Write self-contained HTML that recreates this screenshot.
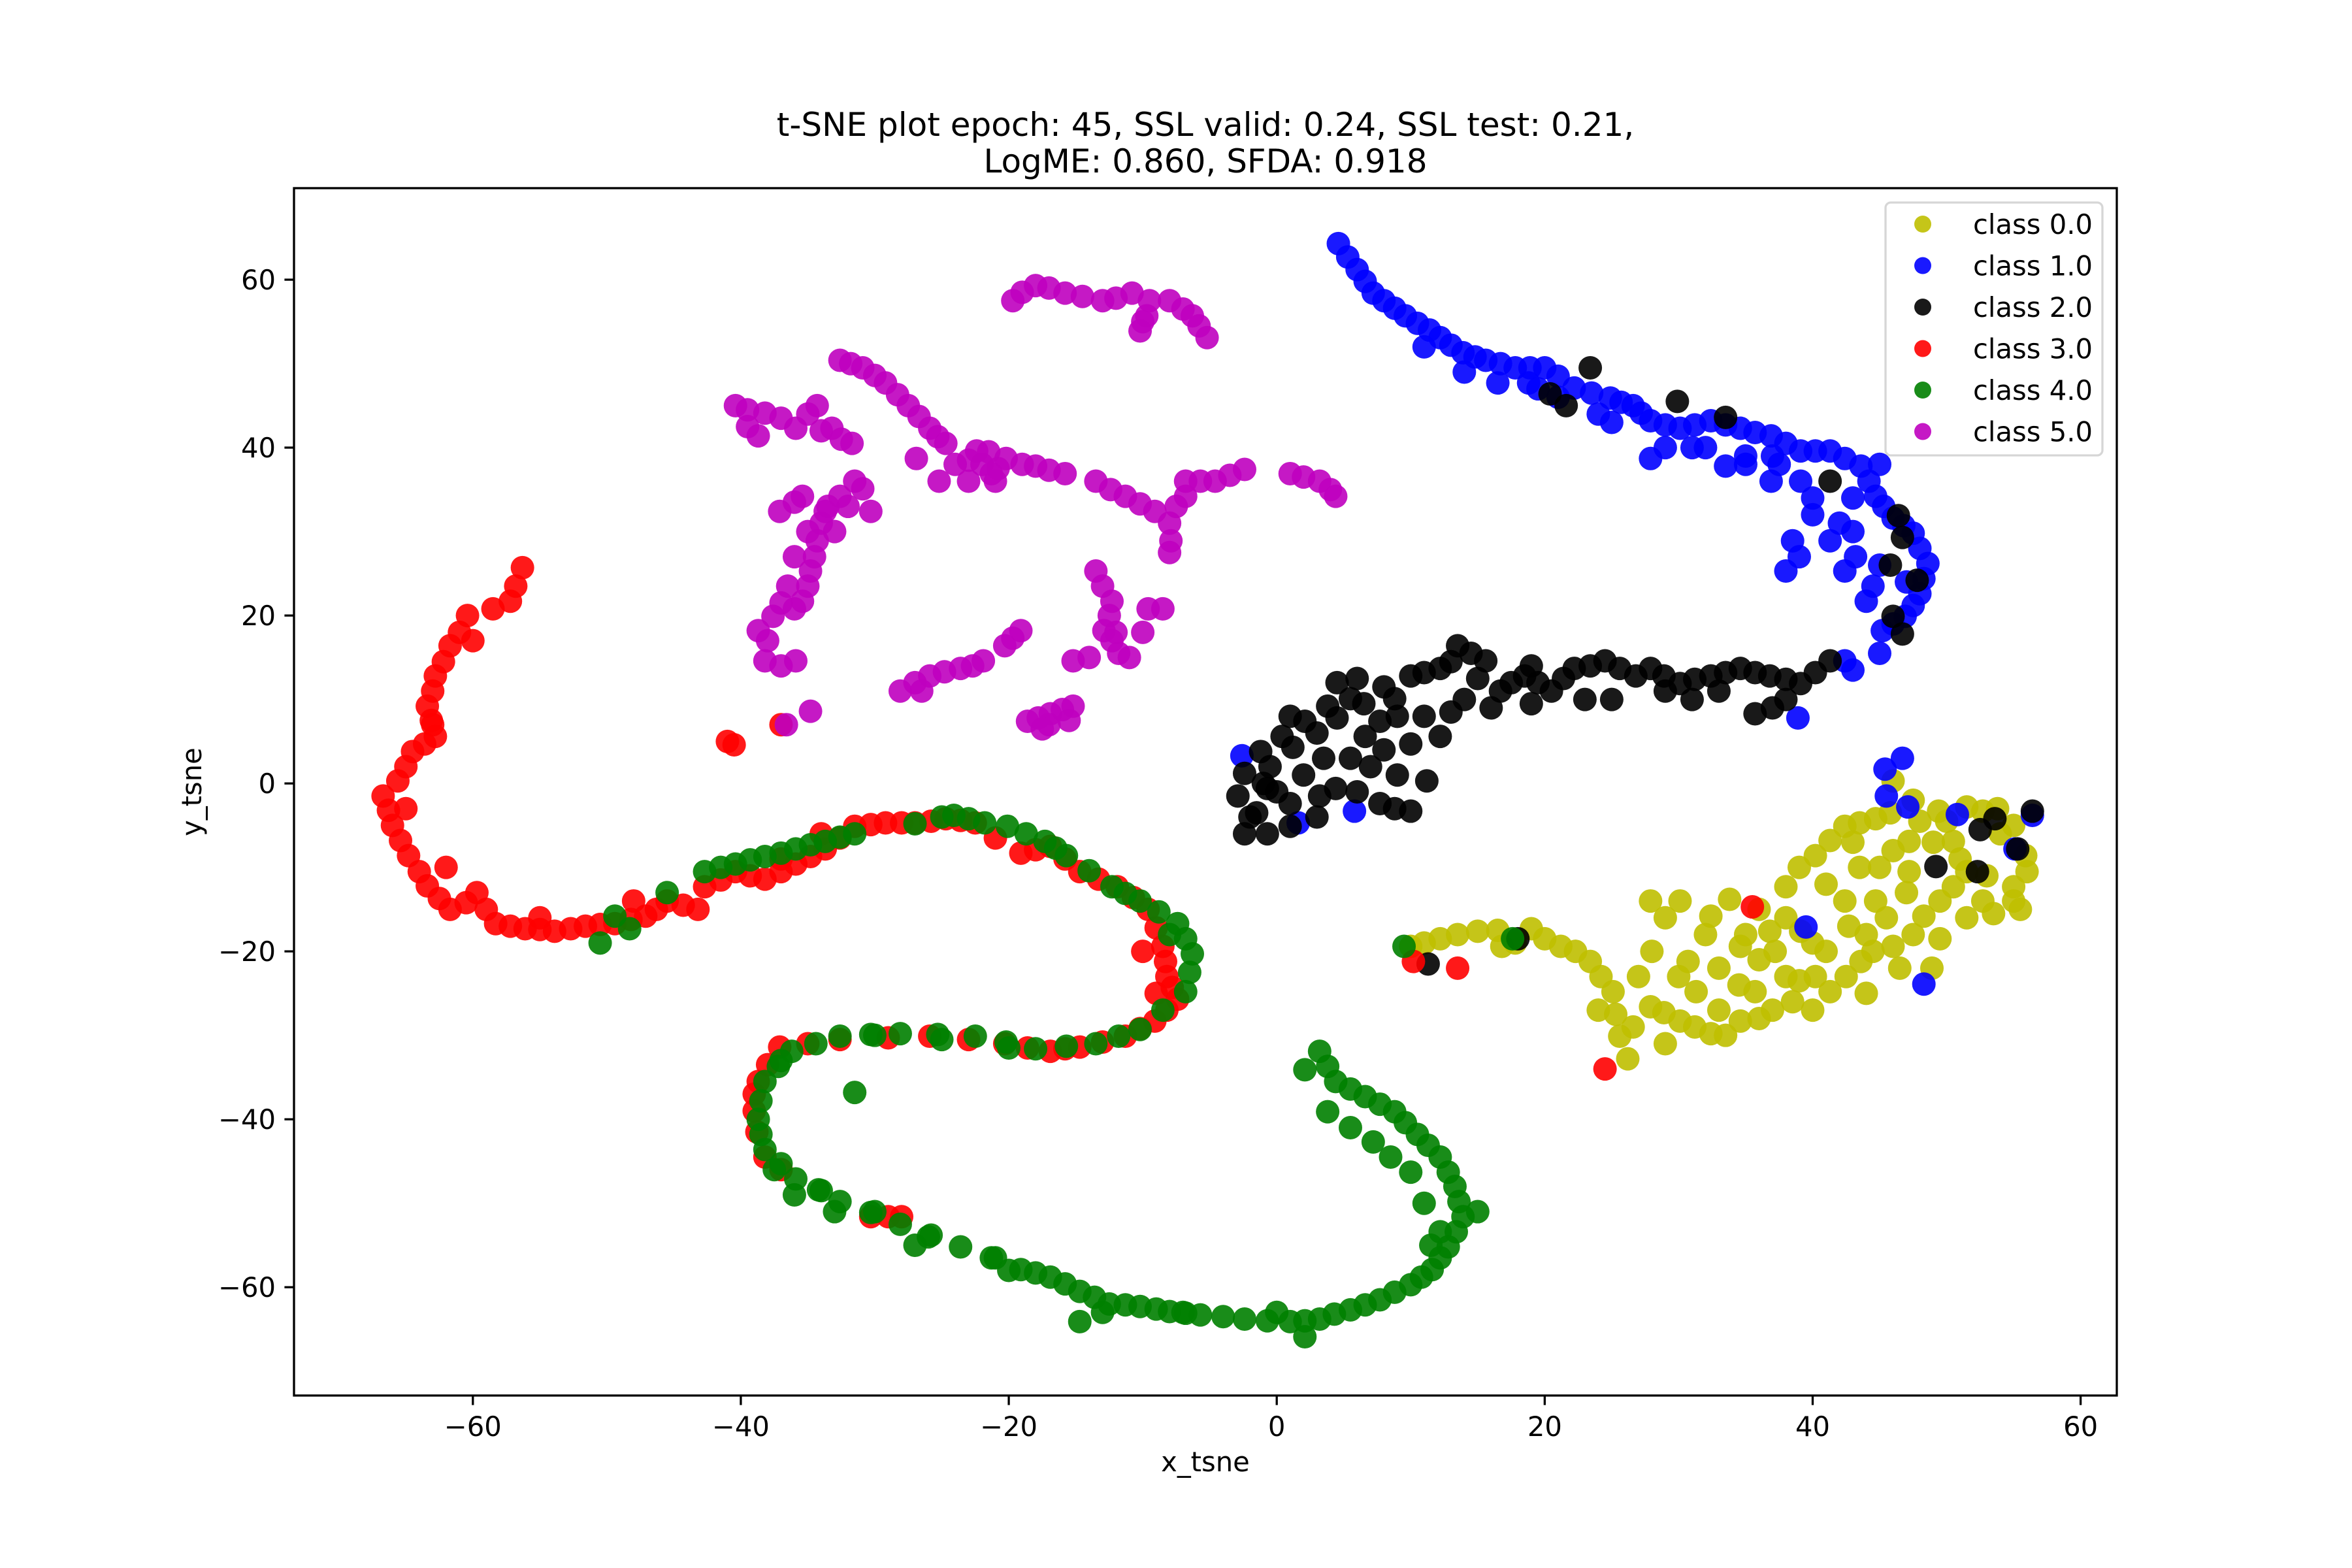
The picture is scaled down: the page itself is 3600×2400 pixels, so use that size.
<!DOCTYPE html>
<html><head><meta charset="utf-8"><style>
html,body{margin:0;padding:0;background:#fff}
svg{display:block}
text{font-family:"DejaVu Sans","Liberation Sans",sans-serif;fill:#000}
</style></head><body>
<svg id="chart" width="3600" height="2400" viewBox="0 0 3600 2400" xmlns="http://www.w3.org/2000/svg">
<rect width="3600" height="2400" fill="#fff"/>
<text x="1845" y="208" font-size="50" text-anchor="middle">t-SNE plot epoch: 45, SSL valid: 0.24, SSL test: 0.21,</text>
<text x="1845" y="264" font-size="50" text-anchor="middle">LogME: 0.860, SFDA: 0.918</text>
<g id="marks"></g>
<rect x="450" y="288" width="2790" height="1848" fill="none" stroke="#000" stroke-width="3.3"/>
<g id="axes"></g>
<text x="1845" y="2252" font-size="41.7" text-anchor="middle">x_tsne</text>
<text x="308" y="1212" font-size="41.7" text-anchor="middle" transform="rotate(-90 308 1212)">y_tsne</text>
<g id="legend"></g>
</svg>
<script>
const classLabels=["class 0.0","class 1.0","class 2.0","class 3.0","class 4.0","class 5.0"];
const classColors=["#bfbf00","#0000ff","#000000","#ff0000","#008000","#bf00bf"];
const xTicks=[-60,-40,-20,0,20,40,60];
const yTicks=[-60,-40,-20,0,20,40,60];
const class0=[[10,-19.4],[12.2,-18.5],[15,-17.6],[19,-17.3],[21.2,-19.4],[23.4,-21.2],[25.1,-24.8],[25.6,-30.1],[26.2,-32.8],[27.9,-26.6],[30.1,-28.3],[32.4,-29.8],[31.3,-24.8],[30.7,-21.2],[30.1,-14],[32.4,-15.8],[34.6,-19.4],[35.7,-24.8],[38,-23],[39.1,-17.6],[38,-12.3],[40.2,-8.6],[42.4,-5.1],[44.7,-4.2],[42.4,-14],[43.6,-21.2],[41.3,-24.8],[46,-19.4],[48.3,-15.8],[50.5,-12.3],[52.7,-14],[55,-12.3],[55.5,-15],[50.5,-6.9],[49.4,-3.3],[52.7,-3.3],[47.2,-6.9],[46,0.3],[47.2,-10.5],[44.7,-14],[48.9,-22],[27.9,-14],[16.8,-19.4],[34.6,-28.3],[36.8,-17.6],[55.9,-8.6],[40.2,-23],[29,-16],[33,-22],[36,-21],[45,-10],[51,-9],[54,-6],[53,-11],[44,-18],[40,-19],[28,-20],[24,-27],[37,-27],
[11,-19],[13.5,-18],[16.5,-17.5],[17.8,-19],[20,-18.5],[22.3,-20],[24.2,-23],[25.3,-27.5],[26.6,-29],[28.9,-27.3],[31.2,-29],[33,-27],[34.5,-24],[32,-18],[33.8,-13.8],[36,-15],[37.2,-20],[38.5,-26],[40,-27],[41,-20],[41,-12],[39,-10],[41.3,-6.8],[43.5,-4.7],[45.8,-3.5],[47.5,-2],[48,-4.5],[50,-4.5],[51.5,-2.8],[53.8,-3],[55,-5],[56,-10.5],[55,-14],[53.5,-15.5],[51.5,-16],[49.5,-14],[47,-13],[45.5,-16],[44.5,-20],[46.5,-22],[47.5,-18],[49.5,-18.5],[51.5,-10.5],[49,-7],[46,-8],[43.5,-10],[43,-7],[42.7,-17],[38,-16],[35,-18],[30,-23],[27,-23],[29,-31],[33.5,-30],[36,-28],[39,-23.5],[42.5,-23],[44,-25]];
const class1=[[4.6,64.3],[6,61.2],[7.2,58.4],[8.8,56.6],[10.5,54.8],[12.2,53.1],[13.9,51.3],[15.6,50.4],[17.8,49.5],[20,49.5],[16.5,47.7],[18.8,47.7],[22.2,47.1],[24.9,45.9],[26.6,45],[27.9,43.2],[30.1,42.3],[32.4,43.2],[34.6,42.3],[36.9,41.4],[39.1,39.6],[41.3,39.6],[43.6,37.8],[44.7,34.2],[46,31.6],[47.5,29.8],[48.6,26.2],[48,22.6],[46.9,19.9],[45.2,18.2],[44,21.7],[42.4,25.3],[41.3,28.9],[38.5,28.9],[38,25.3],[39.1,36],[33.5,37.8],[27.9,38.7],[36.9,36],[42.4,14.6],[38.9,7.8],[45.4,1.7],[46.7,3],[45.5,-1.5],[47.1,-2.8],[50.8,-3.7],[56.4,-3.8],[55.1,-7.8],[39.5,-17.1],[48.3,-23.9],[-2.6,3.3],[5.8,-3.3],[1.6,-4.7],[11,52],[14,49],[21,46],[25,43],[31,40],[35,39],[40,34],[43,30],[45,26],[47,24],
[5.3,62.7],[6.6,59.8],[8,57.5],[9.6,55.7],[11.4,54],[13,52.2],[14.8,50.8],[16.7,50],[18.9,49.5],[21,48.5],[23.5,46.5],[25.7,45.4],[27.2,44.1],[29,42.7],[31.2,42.7],[33.5,42.7],[35.7,41.8],[38,40.5],[40.2,39.6],[42.4,38.7],[44.2,36],[45.3,33],[46.8,30.7],[48,28],[48.3,24.4],[47.5,21.2],[46,19],[44.5,23.5],[43.2,27],[42,31],[40,32],[43,34],[45,38],[19.5,47],[24,44],[29,40],[35,38],[37.5,38],[39,27],[45,15.5],[43,13.5],[37,39],[32,40]];
const class2=[[-2.4,-6],[-0.7,-6],[1,-5.1],[-2.9,-1.5],[-2.4,1.2],[-1.2,3.8],[0.4,5.6],[2.1,7.4],[3.8,9.2],[5.5,10.1],[6.6,5.6],[7.7,7.4],[8.8,10.1],[10,12.8],[12.2,13.7],[13.5,16.4],[15.6,14.6],[16.7,11],[18.5,12.8],[20.5,11],[22.2,13.7],[24.5,14.6],[26.8,12.8],[27.9,13.7],[30.1,11.9],[32.4,12.8],[34.6,13.7],[36.8,12.8],[39.1,11.9],[41.3,14.6],[35.7,8.3],[10,-3.3],[11.2,0.3],[7.7,-2.4],[4.4,-0.6],[5.5,3],[10,4.7],[12.2,5.6],[3.2,-1.5],[1,-2.4],[-0.7,-0.6],[20.4,46.4],[21.6,45],[23.4,49.5],[29.9,45.5],[33.5,43.6],[41.3,36],[46.4,31.9],[46.7,29.3],[45.8,26],[47.8,24.2],[46,19.9],[46.7,17.8],[49.2,-9.9],[52.3,-10.5],[52.5,-5.5],[55.3,-7.8],[56.4,-3.3],[53.6,-4.2],[11.3,-21.5],[18,-18.5],[14,10],[19,14],[23,10],[29,11],[33,11],[38,10],[7,2],[9,8],
[-1.5,-3.5],[0,-1],[-0.5,2],[1.2,4.3],[3,6],[4.5,7.8],[6.5,9.5],[8,11.5],[11,13.2],[13,14.5],[14.5,15.5],[15,12.5],[17.5,12],[19.5,12],[21.4,12.5],[23.4,14],[25.6,13.7],[28.9,12.8],[31.2,12.4],[33.5,13.2],[35.7,13.2],[38,12.4],[40.2,13.2],[37,9],[2,1],[3.5,3],[6,-1],[8.8,-3],[9,1],[8,4],[11,8],[13,8.5],[16,9],[19,9.5],[25,10],[31,10],[4.5,12],[6,12.5],[1,8],[-1,0],[3,-4],[-2,-4]];
const class3=[[-56.3,25.7],[-57.2,21.7],[-60.4,20],[-61.7,16.4],[-62.8,12.8],[-63.4,9.2],[-62.8,5.6],[-64.5,3.8],[-65.6,0.3],[-66.7,-1.5],[-66,-5],[-64.8,-8.6],[-63.4,-12.2],[-61.7,-15],[-59.7,-13],[-58.3,-16.7],[-56.1,-17.3],[-53.9,-17.6],[-51.6,-17],[-49.4,-16.7],[-47.1,-15.8],[-45.5,-14],[-43.2,-15],[-42.7,-12.3],[-40.4,-10.5],[-38.2,-11.4],[-35.9,-9.6],[-33.7,-7.8],[-31.5,-5.1],[-29.2,-4.7],[-27,-4.7],[-24.7,-4.2],[-22.5,-4.7],[-19.1,-8.3],[-16.9,-7.5],[-14.7,-10.5],[-11.9,-12.3],[-9.6,-15],[-8.5,-19.4],[-8.2,-23],[-7.4,-25.7],[-9.1,-28.3],[-11.3,-30.1],[-14.7,-31.4],[-16.9,-31.9],[-20.3,-31],[-25.9,-30.1],[-32.6,-30.5],[-37.1,-31.4],[-38.7,-35.5],[-39,-39],[-38.2,-44.5],[-30.3,-51.6],[-28,-51.6],[-41,5],[-40.5,4.6],[-37,7],[10.2,-21.2],[13.5,-22],[35.5,-14.7],[24.5,-34],[-60,17],[-63,7],[-65,-3],[-62,-10],[-55,-16],[-48,-14],[-37,-9],[-34,-6],[-10,-20],[-9,-25],
[-56.8,23.5],[-58.5,20.8],[-61,18],[-62.2,14.5],[-63,11],[-63.1,7.5],[-63.6,4.7],[-65,2],[-66.3,-3.2],[-65.4,-6.8],[-64,-10.5],[-62.5,-13.7],[-60.5,-14.2],[-59,-15],[-57.2,-17],[-55,-17.4],[-52.7,-17.3],[-50.5,-16.8],[-48.2,-16.2],[-46.3,-15],[-44.3,-14.5],[-41.5,-11.5],[-39.3,-11],[-37,-10.5],[-34.8,-8.7],[-32.6,-6.5],[-30.3,-4.9],[-28,-4.7],[-25.8,-4.5],[-23.6,-4.4],[-21,-6.5],[-18,-7.9],[-15.8,-9],[-13.3,-11.4],[-10.7,-13.6],[-9,-17.2],[-8.3,-21.2],[-7.8,-24.3],[-8.2,-27],[-10.2,-29.2],[-13,-30.8],[-15.8,-31.6],[-18.6,-31.5],[-23,-30.5],[-29,-30.3],[-35,-31],[-38,-33.5],[-39,-37],[-38.8,-41.5],[-37,-46],[-29,-51.6]];
const class4=[[-50.5,-19],[-48.3,-17.3],[-49.4,-15.8],[-42.7,-10.5],[-40.4,-9.6],[-38.2,-8.7],[-35.9,-7.8],[-33.7,-6.9],[-31.5,-6],[-24.1,-3.8],[-21.8,-4.7],[-20.1,-5.1],[-17.3,-6.9],[-15.7,-8.6],[-12.3,-12.3],[-10.2,-14],[-7.4,-16.7],[-6.3,-20.3],[-6.8,-24.8],[-10.2,-29.3],[-13.5,-31],[-18,-31.6],[-22.5,-30.1],[-28.1,-29.8],[-32.6,-30.1],[-36.2,-31.9],[-38.2,-35.5],[-38.7,-40],[-38.2,-43.6],[-35.9,-47.1],[-32.6,-49.8],[-28.1,-52.5],[-23.6,-55.2],[-19.1,-57.9],[-16.9,-58.8],[-14.7,-60.5],[-12.5,-62],[-10.2,-62.3],[-8,-62.9],[-5.7,-63.3],[-2.4,-63.8],[1,-64.1],[3.2,-63.8],[5.5,-62.7],[7.7,-61.5],[10,-59.7],[11.6,-57.9],[12.8,-55.2],[13.9,-51.6],[13.3,-48],[12.2,-44.5],[10.5,-41.8],[8.8,-39.1],[6.6,-37.3],[4.4,-35.5],[3.2,-31.9],[2.1,-34.1],[3.8,-39.1],[7.2,-42.7],[10,-46.3],[12.2,-53.4],[-14.7,-64.1],[2.1,-65.9],[-31.5,-36.8],[15,-51],[9.5,-19.4],[17.6,-18.5],[-30,-30],[-25,-30.5],[-37,-33],[-37.5,-46],[-34,-48.5],[-30,-51],[-26,-54],[-21,-56.5],[-7,-63],[0,-63],[-8,-18],[-20,-31.5],
[-45.5,-13],[-41.5,-10],[-39.3,-9.1],[-37,-8.3],[-34.8,-7.3],[-32.6,-6.4],[-27,-4.8],[-25,-4],[-23,-4.2],[-18.7,-6],[-16.5,-7.7],[-14,-10.4],[-11.3,-13.1],[-8.8,-15.3],[-6.8,-18.5],[-6.5,-22.5],[-8.5,-27],[-11.8,-30.1],[-15.7,-31.3],[-20.2,-30.8],[-25.3,-29.9],[-30.3,-29.9],[-34.4,-31],[-37.2,-33.7],[-38.5,-37.8],[-38.5,-41.8],[-37,-45.3],[-34.2,-48.4],[-30.3,-51.1],[-25.8,-53.8],[-21.3,-56.5],[-18,-58.3],[-15.8,-59.6],[-13.6,-61.2],[-11.3,-62.1],[-9,-62.6],[-6.8,-63.1],[-4,-63.5],[-0.7,-64],[2.1,-64],[4.3,-63.2],[6.6,-62.1],[8.8,-60.6],[10.8,-58.8],[12.2,-56.5],[13.4,-53.4],[13.6,-49.8],[12.8,-46.3],[11.3,-43.1],[9.6,-40.4],[7.7,-38.2],[5.5,-36.4],[3.8,-33.7],[5.5,-41],[8.5,-44.5],[11,-50],[11.5,-55],[-13,-63],[-20,-58],[-27,-55],[-33,-51],[-36,-49]];
const class5=[[-19.7,57.5],[-18,59.3],[-15.8,58.4],[-13,57.5],[-10.8,58.4],[-9.7,55.7],[-8,57.5],[-6.3,55.7],[-5.2,53.1],[-10.2,53.9],[-40.4,45],[-38.2,44.1],[-35.9,42.3],[-34.3,45],[-33.2,42.3],[-31.7,40.5],[-38.7,41.4],[-32.6,50.4],[-30.9,49.5],[-29.2,47.7],[-27.5,45],[-25.9,42.3],[-24.7,40.5],[-26.9,38.7],[-25.2,36],[-23,36],[-21.3,36.9],[-20.2,38.7],[-18,37.8],[-15.8,36.9],[-22.4,39.6],[-13.5,36],[-11.3,34.2],[-9.1,32.4],[-6.8,34.2],[-7.9,28.9],[-6.8,36],[-4.6,36],[-2.4,37.4],[1,36.9],[3.2,36],[4.4,34.2],[-37.1,32.4],[-35.4,34.2],[-33.7,32.4],[-32.6,34.2],[-34.3,28.9],[-34.8,25.3],[-35.4,21.7],[-36.5,23.5],[-37.6,19.9],[-38.7,18.2],[-38.2,14.6],[-35.9,14.6],[-30.9,35.1],[-30.3,32.4],[-13.5,25.3],[-12.3,21.7],[-12.9,18.2],[-11.8,15.5],[-15.2,14.6],[-9.6,20.8],[-8.5,20.8],[-19.1,18.2],[-20.3,16.4],[-28.1,11],[-25.9,12.8],[-23.6,13.7],[-21.9,14.6],[-18.6,7.4],[-16.9,8.3],[-15.2,9.2],[-34.8,8.6],[-36.6,7],[-33,30],[-36,27],[-17,7],[-21,36],[-12,18],
[-19,58.5],[-17,59],[-14.5,58],[-12,57.8],[-9.5,57.5],[-7,56.5],[-5.8,54.5],[-10,55],[-39.5,44.5],[-37,43.5],[-35,44],[-34,42],[-32.5,41],[-39.5,42.5],[-31.8,50],[-30,48.6],[-28.3,46.3],[-26.7,43.7],[-25.3,41.3],[-24,38],[-22,38],[-20.8,37.5],[-19,38],[-17,37.3],[-21.5,39.5],[-23,38.5],[-12.4,35],[-10.2,33.3],[-8,31],[-7.5,33],[-5.7,36],[-3.5,36.7],[-8,27.5],[2,36.5],[4,35],[-36,33.5],[-34,31],[-33.5,33],[-34.5,27],[-35,23.5],[-36,20.8],[-37,21.5],[-38,17],[-37,14],[-31.5,36],[-32,33],[-35,30],[-13,23.5],[-12.5,20],[-12.3,17],[-11,15],[-14,15],[-10,18],[-19.7,17.3],[-27,12],[-24.8,13.3],[-22.7,14],[-26.5,11],[-17.8,7.8],[-16,8.8],[-17.5,6.5],[-15.5,7.5]];
const seriesData=[class0,class1,class2,class3,class4,class5];

const X0=450,X1=3240,Y0=288,Y1=2136;
const xMin=-73.35,xMax=62.7,yMin=-72.9,yMax=70.9;
function sx(v){return X0+(v-xMin)/(xMax-xMin)*(X1-X0);}
function sy(v){return Y1-(v-yMin)/(yMax-yMin)*(Y1-Y0);}
const NS="http://www.w3.org/2000/svg";
const marks=document.getElementById('marks');
seriesData.forEach((pts,ci)=>{
  const g=document.createElementNS(NS,'g');
  
  
  pts.forEach(p=>{
    const c=document.createElementNS(NS,'circle');
    c.setAttribute('cx',sx(p[0]));c.setAttribute('cy',sy(p[1]));
    c.setAttribute('r',18);c.setAttribute('fill',classColors[ci]);c.setAttribute('fill-opacity',0.9);
    
    
    g.appendChild(c);
  });
  marks.appendChild(g);
});
const axes=document.getElementById('axes');
xTicks.forEach(t=>{
  const x=sx(t);
  const l=document.createElementNS(NS,'line');
  l.setAttribute('x1',x);l.setAttribute('x2',x);l.setAttribute('y1',Y1);l.setAttribute('y2',Y1+14.6);
  l.setAttribute('stroke','#000');l.setAttribute('stroke-width',3.3);
  
  
  axes.appendChild(l);
  const tx=document.createElementNS(NS,'text');
  tx.setAttribute('x',x);tx.setAttribute('y',Y1+62);tx.setAttribute('font-size','41.7');tx.setAttribute('text-anchor','middle');
  tx.textContent=(t<0?'\u2212':'')+Math.abs(t);
  
  
  axes.appendChild(tx);
});
yTicks.forEach(t=>{
  const y=sy(t);
  const l=document.createElementNS(NS,'line');
  l.setAttribute('x1',X0-14.6);l.setAttribute('x2',X0);l.setAttribute('y1',y);l.setAttribute('y2',y);
  l.setAttribute('stroke','#000');l.setAttribute('stroke-width',3.3);
  
  
  axes.appendChild(l);
  const tx=document.createElementNS(NS,'text');
  tx.setAttribute('x',X0-28);tx.setAttribute('y',y+15);tx.setAttribute('font-size','41.7');tx.setAttribute('text-anchor','end');
  tx.textContent=(t<0?'\u2212':'')+Math.abs(t);
  
  
  axes.appendChild(tx);
});
const leg=document.getElementById('legend');
const box=document.createElementNS(NS,'rect');
box.setAttribute('x',2886);box.setAttribute('y',310);box.setAttribute('width',332);box.setAttribute('height',387);
box.setAttribute('rx',8);box.setAttribute('fill','#fff');box.setAttribute('fill-opacity',0.8);
box.setAttribute('stroke','#d6d6d6');box.setAttribute('stroke-width',3.3);


leg.appendChild(box);
classLabels.forEach((lab,i)=>{
  const y=343+i*63.5;
  const c=document.createElementNS(NS,'circle');
  c.setAttribute('cx',2943);c.setAttribute('cy',y);c.setAttribute('r',13);c.setAttribute('fill',classColors[i]);c.setAttribute('fill-opacity',0.9);
  
  
  leg.appendChild(c);
  const t=document.createElementNS(NS,'text');
  t.setAttribute('x',3020);t.setAttribute('y',y+15);t.setAttribute('font-size','41.7');
  t.textContent=lab;
  
  
  leg.appendChild(t);
});
</script>
</body></html>
